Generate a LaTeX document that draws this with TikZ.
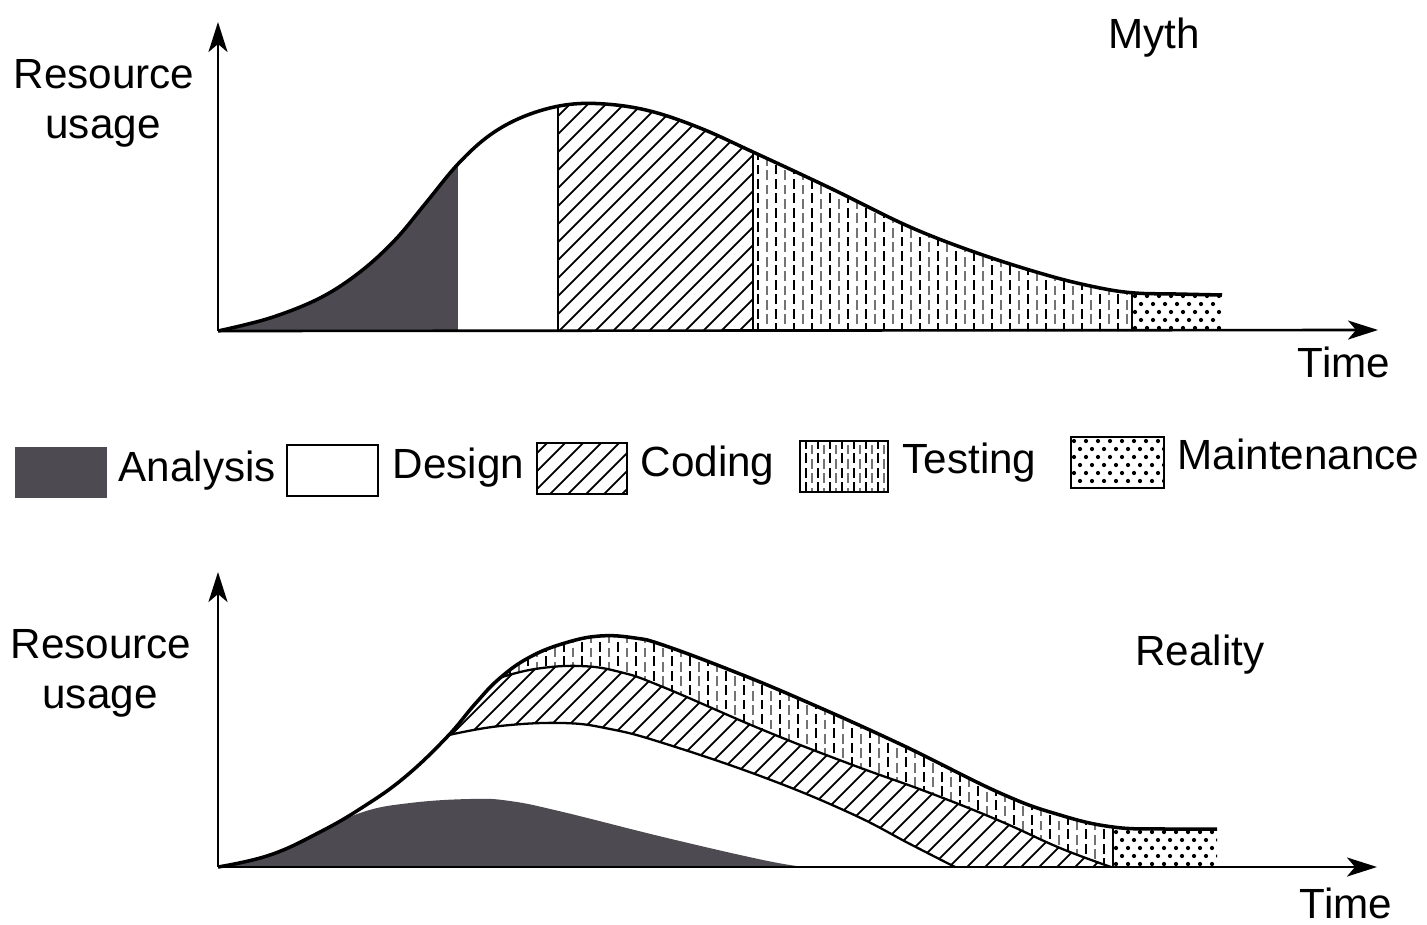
\documentclass[tikz,border=0pt]{standalone}
\usepackage{fontspec}
\setmainfont{Liberation Sans}
\usetikzlibrary{arrows.meta}
\definecolor{analysisgray}{RGB}{78,74,82}
\tikzset{
  axisline/.style={line width=0.75pt, -{Stealth[length=0.3cm,width=0.19cm,inset=0.08cm]}},
  curveline/.style={line width=1pt, line join=round},
  sepline/.style={line width=0.65pt},
  hatchline/.style={line width=0.5pt},
  testdash/.style={line width=0.7pt, dash pattern=on 2.8pt off 1.3pt},
  testdashgray/.style={line width=0.7pt, black!55, dash pattern=on 2.8pt off 1.3pt, dash phase=1.6pt},
  txt/.style={inner sep=0pt, font=\fontsize{12}{14.5}\selectfont},
  legendbox/.style={line width=0.8pt},
}
% curve outlines (x to the right, y downwards)
\def\mythcurve{plot[smooth,tension=0.6] coordinates {(218,331) (270,318) (320,298) (360,272) (395,240) (425,204) (458,164) (490,135) (525,116) (565,105) (605,104) (650,111) (700,128) (753,152) (830,188) (910,227) (980,254) (1050,276) (1100,288) (1135,293) (1176,294) (1222,295)}}
\def\outercurve{plot[smooth,tension=0.7] coordinates {(218,867) (270,855) (320,832) (363,807) (405,777) (447,737) (475,704) (500,678) (530,657) (565,643) (600,636) (635,638) (663,645) (730,670) (800,699) (900,744) (1000,793) (1060,815) (1113,827) (1165,829) (1217,829)}}
\def\codingcurve{plot[smooth,tension=0.7] coordinates {(499,678) (535,669) (580,666) (620,672) (663,687) (763,730) (850,764) (930,793) (1000,821) (1060,848) (1111,867)}}
\def\designcurve{plot[smooth,tension=0.7] coordinates {(449,735) (500,726) (563,723) (610,729) (663,743) (763,777) (850,813) (910,844) (955,867)}}
\def\analysiscurve{plot[smooth,tension=0.7] coordinates {(218,867) (270,855) (320,832) (363,812) (410,803) (470,799) (510,801) (563,812) (663,837) (763,860) (805,867)}}
% closed areas below the coding and design boundaries
\def\codingregion{(218,678) -- plot[smooth,tension=0.7] coordinates {(499,678) (535,669) (580,666) (620,672) (663,687) (763,730) (850,764) (930,793) (1000,821) (1060,848) (1111,867)} -- (1113,870) -- (218,870) -- cycle}
\def\designregion{(218,735) -- plot[smooth,tension=0.7] coordinates {(449,735) (500,726) (563,723) (610,729) (663,743) (763,777) (850,813) (910,844) (955,867)} -- (955,870) -- (218,870) -- cycle}
% fill patterns
\newcommand\codinghatch[4]{%
  \foreach \k in {-800,-782,...,1500} {\draw[hatchline] (\k,#4) -- ++(500,-500);}}
\newcommand\testingdashes[5]{% x list, last x, y1, y2, offset of grey lines
  \foreach \x in {#1,...,#2} {\draw[testdash] (\x,#4) -- (\x,#3);}
  \foreach \x in {#1,...,#2} {\draw[testdashgray] ({\x+#5},#4) -- ({\x+#5},#3);}}
\newcommand\maintdots[4]{%
  \foreach \i in {0,...,12} {\foreach \j in {0,...,8} {\fill ({#1+3+\i*12+mod(\j,2)*6},{#2+4+\j*8}) circle (0.6pt);}}}
\begin{document}
\begin{tikzpicture}[x=0.01cm,y=-0.01cm]
\useasboundingbox (0,0) rectangle (1427,924);

% ---------------- Myth ----------------
\coordinate (o1) at (218,331);
\coordinate (ytop1) at (218,22);
\coordinate (xend1) at (1378,330);
\begin{scope}
  \clip \mythcurve -- (1222,331) -- cycle;
  \fill[analysisgray] (218,0) rectangle (458,340);
  \begin{scope}
    \clip (558,0) rectangle (753,340);
    \codinghatch{558}{0}{753}{340}
  \end{scope}
  \begin{scope}
    \clip (753,0) rectangle (1132,340);
    \testingdashes{758,776}{1130}{80}{333}{9}
  \end{scope}
  \begin{scope}
    \clip (1132,0) rectangle (1222,340);
    \maintdots{1132}{292}{1222}{330}
  \end{scope}
  \draw[sepline] (558,340) -- (558,0);
  \draw[sepline] (753,340) -- (753,0);
  \draw[sepline] (1132,340) -- (1132,0);
\end{scope}
\draw[curveline] \mythcurve;
\draw[axisline] (o1) -- (ytop1);
\draw[axisline] (o1) -- (xend1);

\node[txt,anchor=base] (myth) at (1154,48) {Myth};
\node[txt,anchor=base] (res1) at (104,88) {Resource};
\node[txt,anchor=base] (use1) at (103,138) {usage};
\node[txt,anchor=base] (time1) at (1344,377) {Time};

% ---------------- Legend ----------------
\fill[analysisgray] (15,447) rectangle (107,498);
\node[txt,anchor=base west] (lanalysis) at (118,481) {Analysis};

\draw[legendbox] (287,445) rectangle (378,496);
\node[txt,anchor=base west] (ldesign) at (392,478) {Design};

\begin{scope}
  \clip (537,443) rectangle (627,494);
  \codinghatch{537}{443}{627}{494}
\end{scope}
\draw[legendbox] (537,443) rectangle (627,494);
\node[txt,anchor=base west] (lcoding) at (640,476) {Coding};

\begin{scope}
  \clip (800,441) rectangle (888,492);
  \testingdashes{806,818}{886}{441}{492}{6}
\end{scope}
\draw[legendbox] (800,441) rectangle (888,492);
\node[txt,anchor=base west] (ltesting) at (902,473) {Testing};

\begin{scope}
  \clip (1071,437) rectangle (1164,488);
  \maintdots{1071}{437}{1164}{488}
\end{scope}
\draw[legendbox] (1071,437) rectangle (1164,488);
\node[txt,anchor=base west] (lmaint) at (1177,469) {Maintenance};

% ---------------- Reality ----------------
\coordinate (o2) at (218,867);
\coordinate (ytop2) at (218,572);
\coordinate (xend2) at (1377,867);
\coordinate (tm) at (1113,827);
\coordinate (tb) at (1113,867);
\begin{scope}
  \clip \outercurve -- (1217,867) -- cycle;
  \begin{scope}
    \clip (218,560) rectangle (1113,870);
    \testingdashes{222,240}{1112}{600}{868}{9}
  \end{scope}
  \begin{scope}
    \clip (1113,800) rectangle (1217,870);
    \maintdots{1113}{828}{1217}{867}
  \end{scope}
  \begin{scope}
    \clip \codingregion;
    \fill[white] (0,500) rectangle (1427,900);
    \codinghatch{218}{600}{1113}{870}
  \end{scope}
  \fill[white] \designregion;
  \fill[analysisgray] \analysiscurve -- cycle;
\end{scope}
\draw[sepline] \codingcurve;
\draw[sepline] \designcurve;
\draw[sepline] (tm) -- (tb);
\draw[curveline] \outercurve;
\draw[axisline] (o2) -- (ytop2);
\draw[axisline] (o2) -- (xend2);

\node[txt,anchor=base] (reality) at (1200,665) {Reality};
\node[txt,anchor=base] (res2) at (101,658) {Resource};
\node[txt,anchor=base] (use2) at (100,708) {usage};
\node[txt,anchor=base] (time2) at (1346,918) {Time};
\end{tikzpicture}
\end{document}
